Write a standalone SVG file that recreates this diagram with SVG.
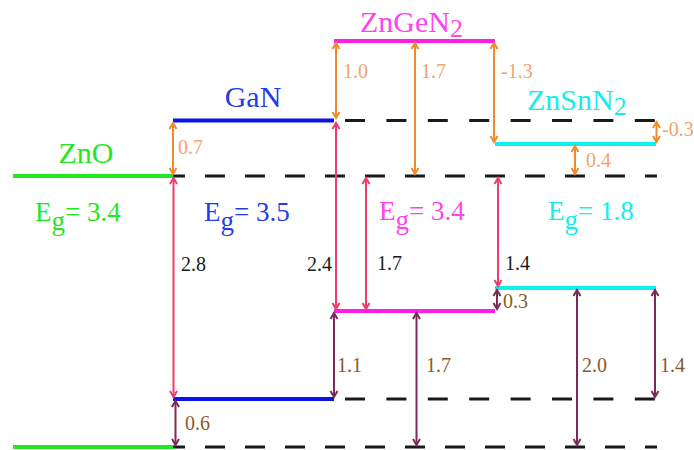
<svg xmlns="http://www.w3.org/2000/svg" width="694" height="450" viewBox="0 0 694 450">
<style>
text{font-family:"Liberation Serif","Times New Roman",serif}
.name{font-size:30px}
.eg{font-size:27px}
.num{font-size:20px}
.lvl{stroke-width:4;fill:none}
.dash{stroke:#1a1a1a;stroke-width:3;fill:none}
.ora{stroke:#f08a2a;stroke-width:2;fill:none;marker-start:url(#mo);marker-end:url(#mo)}
.pnk{stroke:#f23a6e;stroke-width:2;fill:none;marker-start:url(#mp);marker-end:url(#mp)}
.pur{stroke:#7d2a58;stroke-width:2;fill:none;marker-start:url(#mu);marker-end:url(#mu)}
.to{fill:#f5a26e}
.tb{fill:#8c5a2a}
.tk{fill:#1a1a1a}
</style>
<defs>
<marker id="mo" markerUnits="userSpaceOnUse" markerWidth="12" markerHeight="12" refX="0" refY="0" viewBox="-7 -6 8 12" orient="auto-start-reverse" overflow="visible"><path d="M-6,-3.5 L0,0 L-6,3.5" fill="none" stroke="#f08a2a" stroke-width="2"/></marker>
<marker id="mp" markerUnits="userSpaceOnUse" markerWidth="12" markerHeight="12" refX="0" refY="0" viewBox="-7 -6 8 12" orient="auto-start-reverse" overflow="visible"><path d="M-6,-3.5 L0,0 L-6,3.5" fill="none" stroke="#f23a6e" stroke-width="2"/></marker>
<marker id="mu" markerUnits="userSpaceOnUse" markerWidth="12" markerHeight="12" refX="0" refY="0" viewBox="-7 -6 8 12" orient="auto-start-reverse" overflow="visible"><path d="M-6,-3.5 L0,0 L-6,3.5" fill="none" stroke="#7d2a58" stroke-width="2"/></marker>
</defs>
<rect width="694" height="450" fill="#ffffff"/>

<g id="reference-lines">
<line class="dash" x1="345" y1="120.5" x2="655" y2="120.5" stroke-dasharray="20 21.4"/>
<line class="dash" x1="173" y1="176" x2="657" y2="176" stroke-dasharray="20 20" stroke-dashoffset="8"/>
<line class="dash" x1="345" y1="399" x2="655" y2="399" stroke-dasharray="20 21.4"/>
<line class="dash" x1="173" y1="447" x2="657" y2="447" stroke-dasharray="20 20" stroke-dashoffset="8"/>
</g>

<g id="ZnO">
<line class="lvl" stroke="#22e822" x1="13" y1="176" x2="173" y2="176"/>
<line class="lvl" stroke="#22e822" x1="13" y1="447" x2="173" y2="447"/>
<text class="name" font-family="Liberation Serif" x="86" y="163" fill="#22e822" text-anchor="middle">ZnO</text>
<text class="eg" font-family="Liberation Serif" x="35" y="221" fill="#22e822">E<tspan dy="9">g</tspan><tspan dy="-9">= 3.4</tspan></text>
</g>

<g id="GaN">
<line class="lvl" stroke="#0a14e8" x1="173" y1="120.5" x2="334" y2="120.5"/>
<line class="lvl" stroke="#0a14e8" x1="173" y1="399" x2="334" y2="399"/>
<text class="name" font-family="Liberation Serif" x="253" y="107" fill="#1f3cf0" text-anchor="middle">GaN</text>
<text class="eg" font-family="Liberation Serif" x="204" y="221" fill="#1f3cf0">E<tspan dy="9">g</tspan><tspan dy="-9">= 3.5</tspan></text>
</g>

<g id="ZnGeN2">
<line class="lvl" stroke="#ff1ee8" x1="334" y1="41" x2="495" y2="41"/>
<line class="lvl" stroke="#ff1ee8" x1="334" y1="311" x2="495" y2="311"/>
<text class="name" font-family="Liberation Serif" x="360" y="32" fill="#ff44ee">ZnGeN<tspan dy="5" font-size="26">2</tspan></text>
<text class="eg" font-family="Liberation Serif" x="379" y="220" fill="#ff44ee">E<tspan dy="9">g</tspan><tspan dy="-9">= 3.4</tspan></text>
</g>

<g id="ZnSnN2">
<line class="lvl" stroke="#11eeee" x1="495" y1="144" x2="656" y2="144"/>
<line class="lvl" stroke="#11eeee" x1="495" y1="288" x2="656" y2="288"/>
<text class="name" font-family="Liberation Serif" x="527" y="110" fill="#11eeee">ZnSnN<tspan dy="5" font-size="26">2</tspan></text>
<text class="eg" font-family="Liberation Serif" x="548" y="220" fill="#11eeee">E<tspan dy="9">g</tspan><tspan dy="-9">= 1.8</tspan></text>
</g>

<g id="connectors">
<line class="ora" x1="173" y1="123" x2="173" y2="174"/>
<line class="ora" x1="336" y1="43" x2="336" y2="118"/>
<line class="ora" x1="415" y1="43" x2="415" y2="174"/>
<line class="ora" x1="494" y1="43" x2="494" y2="142"/>
<line class="ora" x1="656.5" y1="122" x2="656.5" y2="142"/>
<line class="ora" x1="575" y1="146" x2="575" y2="174"/>

<line class="pnk" x1="173.5" y1="178" x2="173.5" y2="397"/>
<line class="pnk" x1="336" y1="123" x2="336" y2="309"/>
<line class="pnk" x1="366" y1="178" x2="366" y2="309"/>
<line class="pnk" x1="498" y1="178" x2="498" y2="286"/>

<line class="pur" x1="175.5" y1="401" x2="175.5" y2="445"/>
<line class="pur" x1="334" y1="313" x2="334" y2="397"/>
<line class="pur" x1="416.5" y1="313" x2="416.5" y2="445"/>
<line class="pur" x1="497" y1="290" x2="497" y2="309"/>
<line class="pur" x1="577" y1="290" x2="577" y2="445"/>
<line class="pur" x1="655" y1="290" x2="655" y2="397"/>
</g>

<g id="labels" font-family="Liberation Serif">
<text class="num to" x="178" y="154">0.7</text>
<text class="num to" x="343" y="78">1.0</text>
<text class="num to" x="421" y="78">1.7</text>
<text class="num to" x="501" y="78">-1.3</text>
<text class="num to" x="662" y="136">-0.3</text>
<text class="num to" x="586" y="167">0.4</text>

<text class="num tk" x="181" y="271">2.8</text>
<text class="num tk" x="307" y="271">2.4</text>
<text class="num tk" x="377" y="270">1.7</text>
<text class="num tk" x="505" y="270">1.4</text>

<text class="num tb" x="185" y="430">0.6</text>
<text class="num tb" x="337" y="372">1.1</text>
<text class="num tb" x="426" y="372">1.7</text>
<text class="num tb" x="503" y="308">0.3</text>
<text class="num tb" x="582" y="372">2.0</text>
<text class="num tb" x="660" y="372">1.4</text>
</g>
</svg>
